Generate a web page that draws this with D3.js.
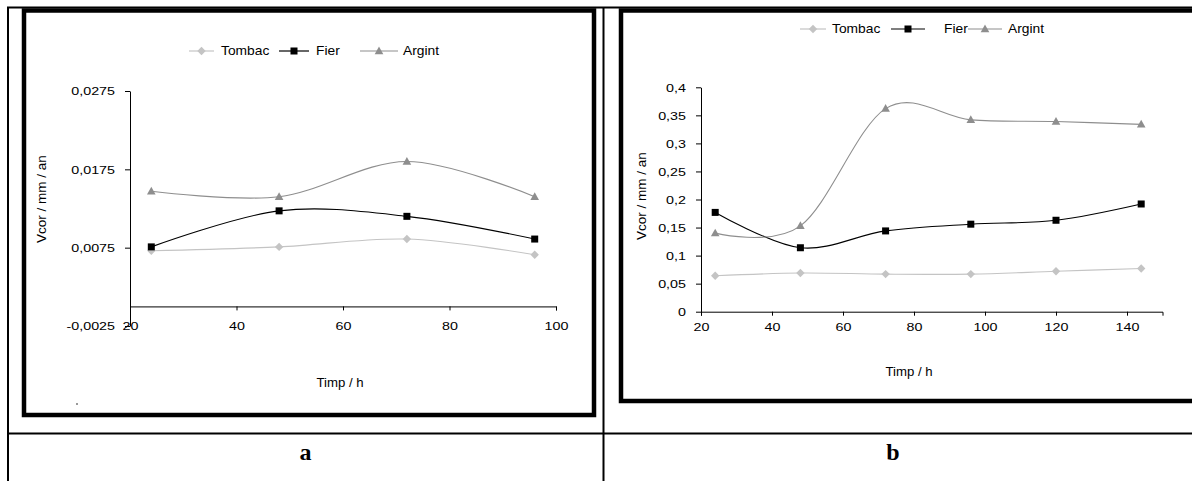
<!DOCTYPE html>
<html>
<head>
<meta charset="utf-8">
<script src="https://cdn.jsdelivr.net/npm/d3@7"></script>
<style>
  body { margin: 0; background: #fff; }
  svg { display: block; }
</style>
</head>
<body>
<svg id="fig" width="1192" height="481"></svg>
<script>
// ---- Panel a: corrosion rate over 24..96 h ----
const hoursA = [24, 48, 72, 96];
const tombacA = [0.0071, 0.0076, 0.0086, 0.0066];
const fierA = [0.0076, 0.0122, 0.0115, 0.0086];
const argintA = [0.0147, 0.0140, 0.0185, 0.0140];
const yTicksA = [-0.0025, 0.0075, 0.0175, 0.0275];
const yTickLabelsA = ["-0,0025", "0,0075", "0,0175", "0,0275"];
const xTicksA = [20, 40, 60, 80, 100];

// ---- Panel b: corrosion rate over 24..144 h ----
const hoursB = [24, 48, 72, 96, 120, 144];
const tombacB = [0.064, 0.069, 0.067, 0.067, 0.072, 0.077];
const fierB = [0.177, 0.114, 0.144, 0.156, 0.163, 0.192];
const argintB = [0.140, 0.153, 0.362, 0.342, 0.339, 0.334];
const yTicksB = [0, 0.05, 0.1, 0.15, 0.2, 0.25, 0.3, 0.35, 0.4];
const yTickLabelsB = ["0", "0,05", "0,1", "0,15", "0,2", "0,25", "0,3", "0,35", "0,4"];
const xTicksB = [20, 40, 60, 80, 100, 120, 140];

const seriesNames = ["Tombac", "Fier", "Argint"];
const panelLabels = ["a", "b"];
const xTitle = "Timp / h";
const yTitle = "Vcor / mm / an";

const FONT = "'Liberation Sans', Arial, sans-serif";
const styles = {
  Tombac: { color: "#c4c4c4", marker: "diamond" },
  Fier:   { color: "#000000", marker: "square" },
  Argint: { color: "#8e8e8e", marker: "triangle" }
};

const svg = d3.select("#fig");

// Horizontally stretched text helper
function label(g, x, y, txt, opt = {}) {
  const sx = opt.sx || 1;
  return g.append("text")
    .attr("transform", `translate(${x},${y}) scale(${sx},1)`)
    .attr("text-anchor", opt.anchor || "middle")
    .attr("dominant-baseline", "central")
    .attr("font-family", FONT)
    .attr("font-size", opt.size || 11)
    .attr("fill", "#000")
    .text(txt);
}

function marker(g, type, x, y, color) {
  if (type === "square") {
    g.append("rect").attr("x", x - 3.5).attr("y", y - 3.5).attr("width", 7).attr("height", 7).attr("fill", color);
  } else if (type === "diamond") {
    g.append("path").attr("d", `M${x},${y - 4.2}L${x + 4.2},${y}L${x},${y + 4.2}L${x - 4.2},${y}Z`).attr("fill", color);
  } else {
    g.append("path").attr("d", `M${x},${y - 4.5}L${x + 4.3},${y + 3.2}L${x - 4.3},${y + 3.2}Z`).attr("fill", color);
  }
}

function stretchAxisText(axisG, sx, size) {
  axisG.selectAll("text").each(function () {
    const t = d3.select(this);
    const x = +t.attr("x") || 0;
    const y = +t.attr("y") || 0;
    t.attr("x", null).attr("y", null).attr("dy", null)
      .attr("dominant-baseline", "central")
      .attr("transform", `translate(${x},${y}) scale(${sx},1)`)
      .attr("font-size", size).attr("font-family", FONT).attr("fill", "#000");
  });
}

function panel(cfg) {
  const g = svg.append("g");
  const x = d3.scaleLinear().domain(cfg.xDomain).range(cfg.xRange);
  const y = d3.scaleLinear().domain(cfg.yDomain).range(cfg.yRange);

  // y axis
  const ya = g.append("g").attr("transform", `translate(${x(cfg.xDomain[0])},0)`)
    .call(d3.axisLeft(y).tickValues(cfg.yTicks).tickSize(5).tickSizeOuter(0)
      .tickFormat((d, i) => cfg.yLabels[i]).tickPadding(cfg.yPad));
  ya.select(".domain").attr("stroke", "#000");
  ya.selectAll(".tick line").attr("stroke", "#000");
  ya.selectAll("text").attr("y", 0);
  stretchAxisText(ya, cfg.tickSx, cfg.tickSize);

  // x axis crossing at value 0
  const xa = g.append("g").attr("transform", `translate(0,${y(0)})`)
    .call(d3.axisBottom(x).tickValues(cfg.xTicks).tickSize(4).tickSizeOuter(4)
      .tickFormat(d3.format("d")).tickPadding(0));
  xa.select(".domain").attr("stroke", "#000");
  xa.selectAll(".tick line").attr("stroke", "#000");
  xa.selectAll("text").attr("y", cfg.xLabelOffset);
  stretchAxisText(xa, cfg.tickSx, cfg.tickSize);

  // axis titles
  label(g, cfg.xTitlePos[0], cfg.xTitlePos[1], xTitle, { size: cfg.titleSize, sx: cfg.titleSx });
  g.append("text")
    .attr("transform", `translate(${cfg.yTitlePos[0]},${cfg.yTitlePos[1]}) rotate(-90)`)
    .attr("text-anchor", "middle").attr("dominant-baseline", "central")
    .attr("font-family", FONT).attr("font-size", cfg.yTitleSize).attr("fill", "#000")
    .text(yTitle);

  // series lines (smoothed) and markers
  const line = d3.line().x((d, i) => x(cfg.hours[i])).y(d => y(d)).curve(d3.curveCardinal.tension(0));
  cfg.series.forEach((vals, si) => {
    const st = styles[seriesNames[si]];
    g.append("path").attr("d", line(vals)).attr("fill", "none")
      .attr("stroke", st.color).attr("stroke-width", 1.1);
    vals.forEach((v, i) => marker(g, st.marker, x(cfg.hours[i]), y(v), st.color));
  });

  // legend
  seriesNames.forEach((name, si) => {
    const st = styles[name];
    const L = cfg.legend[si];
    g.append("line").attr("x1", L[0]).attr("x2", L[1]).attr("y1", cfg.legendY).attr("y2", cfg.legendY)
      .attr("stroke", st.color).attr("stroke-width", 1.2);
    marker(g, st.marker, (L[0] + L[1]) / 2, cfg.legendY, st.color);
    label(g, L[2], cfg.legendY, name, { anchor: "start", size: cfg.legendSize, sx: cfg.legendSx });
  });
}

// ---- table grid ----
const grid = svg.append("g").attr("stroke", "#000").attr("stroke-width", 2);
grid.append("line").attr("x1", 7).attr("x2", 1192).attr("y1", 7.5).attr("y2", 7.5);
grid.append("line").attr("x1", 7).attr("x2", 1192).attr("y1", 433.5).attr("y2", 433.5);
grid.append("line").attr("x1", 8).attr("x2", 8).attr("y1", 7).attr("y2", 481);
grid.append("line").attr("x1", 603.5).attr("x2", 603.5).attr("y1", 7).attr("y2", 481);

// chart frames
svg.append("rect").attr("x", 24).attr("y", 10.5).attr("width", 570).attr("height", 404.5)
  .attr("fill", "none").attr("stroke", "#000").attr("stroke-width", 4.5);
svg.append("rect").attr("x", 621).attr("y", 10.5).attr("width", 620).attr("height", 390.5)
  .attr("fill", "none").attr("stroke", "#000").attr("stroke-width", 4.5);

// small stray dot in panel a
svg.append("rect").attr("x", 76).attr("y", 403).attr("width", 2).attr("height", 2).attr("fill", "#999");

panel({
  hours: hoursA, series: [tombacA, fierA, argintA],
  xDomain: [20, 100], xRange: [130, 556],
  yDomain: [-0.0025, 0.0275], yRange: [326, 91],
  yTicks: yTicksA, yLabels: yTickLabelsA, xTicks: xTicksA,
  yPad: 10, xLabelOffset: 20, tickSize: 11, tickSx: 1.3,
  xTitlePos: [340, 383], titleSize: 12, titleSx: 1.1,
  yTitlePos: [41, 199], yTitleSize: 13.5,
  legendY: 51, legend: [[189, 214, 221], [279, 309, 316], [360, 398, 403]],
  legendSize: 12, legendSx: 1.15
});

panel({
  hours: hoursB, series: [tombacB, fierB, argintB],
  xDomain: [20, 150], xRange: [701, 1162.5],
  yDomain: [0, 0.4], yRange: [311.7, 87.3],
  yTicks: yTicksB, yLabels: yTickLabelsB, xTicks: xTicksB,
  yPad: 10, xLabelOffset: 15, tickSize: 11, tickSx: 1.3,
  xTitlePos: [909, 372], titleSize: 12, titleSx: 1.1,
  yTitlePos: [641, 196], yTitleSize: 13.5,
  legendY: 29, legend: [[800, 826, 832], [891, 925, 944], [968, 1002, 1008]],
  legendSize: 12, legendSx: 1.15
});

// panel captions
panelLabels.forEach((p, i) => {
  svg.append("text").attr("x", i === 0 ? 305.5 : 893).attr("y", 460)
    .attr("text-anchor", "middle").attr("font-family", "'Liberation Serif', 'Times New Roman', serif")
    .attr("font-weight", "bold").attr("font-size", 24).attr("fill", "#000").text(p);
});
</script>
</body>
</html>
